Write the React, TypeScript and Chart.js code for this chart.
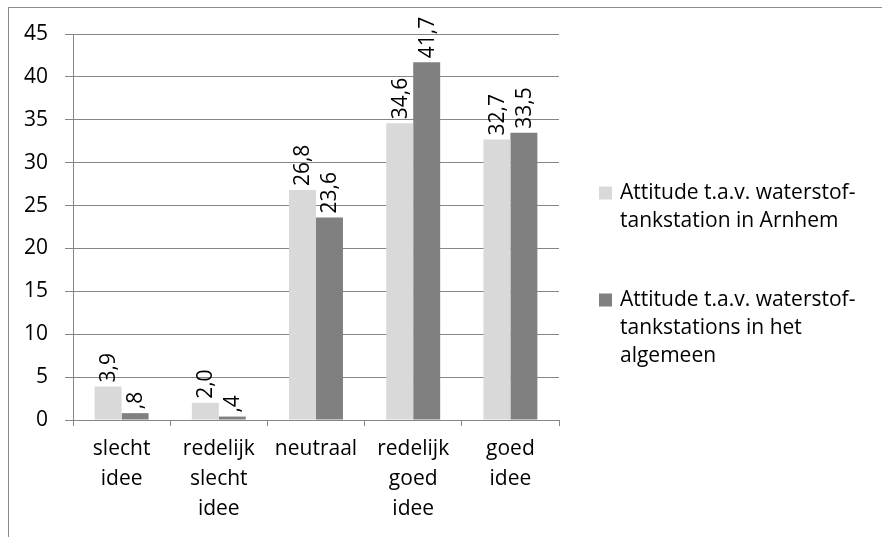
import React, { useEffect, useRef } from "react";
import { Chart, registerables } from "chart.js";

Chart.register(...registerables);

const categories: string[][] = [
  ["slecht", "idee"],
  ["redelijk", "slecht", "idee"],
  ["neutraal"],
  ["redelijk", "goed", "idee"],
  ["goed", "idee"],
];
const arnhemValues: number[] = [3.9, 2.0, 26.8, 34.6, 32.7];
const algemeenValues: number[] = [0.8, 0.4, 23.6, 41.7, 33.5];
const seriesNames: string[][] = [
  ["Attitude t.a.v. waterstof-", "tankstation in Arnhem"],
  ["Attitude t.a.v. waterstof-", "tankstations in het", "algemeen"],
];
const seriesColors: string[] = ["#d9d9d9", "#808080"];
const yTicks = { min: 0, max: 45, step: 5 };

const FONT = "'Open Sans', sans-serif";
const FONT_SIZE = 21;

function fmt(v: number): string {
  let s = v.toFixed(1).replace(".", ",");
  if (s.startsWith("0,")) s = s.slice(1);
  return s;
}

const framePlugin = {
  id: "frame",
  beforeDraw(chart: any) {
    const ctx = chart.ctx;
    ctx.save();
    ctx.strokeStyle = "#8c8c8c";
    ctx.lineWidth = 1;
    ctx.strokeRect(8.5, 7.5, 2000, 2000);
    ctx.restore();
  },
};

const valueLabelPlugin = {
  id: "valueLabels",
  afterDatasetsDraw(chart: any) {
    const ctx = chart.ctx;
    ctx.save();
    ctx.fillStyle = "#000";
    ctx.font = `${FONT_SIZE}px ${FONT}`;
    ctx.textAlign = "left";
    ctx.textBaseline = "middle";
    chart.data.datasets.forEach((ds: any, di: number) => {
      const meta = chart.getDatasetMeta(di);
      meta.data.forEach((bar: any, i: number) => {
        ctx.save();
        ctx.translate(bar.x, bar.y - 4);
        ctx.rotate(-Math.PI / 2);
        ctx.fillText(fmt(ds.data[i]), 0, 1);
        ctx.restore();
      });
    });
    ctx.restore();
  },
};

const legendPlugin = {
  id: "customLegend",
  afterDraw(chart: any) {
    const ctx = chart.ctx;
    const area = chart.chartArea;
    const sqX = area.right + 40;
    const textX = sqX + 21;
    const lineH = 28;
    const starts = [193, 300];
    ctx.save();
    ctx.font = `${FONT_SIZE}px ${FONT}`;
    ctx.textAlign = "left";
    ctx.textBaseline = "middle";
    seriesNames.forEach((lines, si) => {
      const y0 = starts[si];
      ctx.fillStyle = seriesColors[si];
      ctx.fillRect(sqX, y0 - 6.5, 13, 13);
      ctx.fillStyle = "#000";
      lines.forEach((ln, li) => {
        ctx.fillText(ln, textX, y0 + li * lineH);
      });
    });
    ctx.restore();
  },
};

export default function App() {
  const ref = useRef<HTMLCanvasElement | null>(null);
  useEffect(() => {
    if (!ref.current) return;
    const chart = new Chart(ref.current, {
      type: "bar",
      data: {
        labels: categories,
        datasets: [
          {
            label: seriesNames[0].join(" "),
            data: arnhemValues,
            backgroundColor: seriesColors[0],
            categoryPercentage: 0.555,
            barPercentage: 1,
          },
          {
            label: seriesNames[1].join(" "),
            data: algemeenValues,
            backgroundColor: seriesColors[1],
            categoryPercentage: 0.555,
            barPercentage: 1,
          },
        ],
      },
      options: {
        responsive: false,
        animation: false,
        layout: { padding: { left: 0, top: 34, right: 323, bottom: 0 } },
        plugins: {
          legend: { display: false },
          tooltip: { enabled: false },
        },
        scales: {
          x: {
            grid: {
              display: true,
              drawOnChartArea: false,
              drawTicks: true,
              tickLength: 6,
              color: "#868686",
              offset: true,
            },
            border: { display: true, color: "#868686" },
            ticks: {
              color: "#000",
              font: { family: FONT, size: FONT_SIZE, lineHeight: 1.43 },
              padding: 8,
              maxRotation: 0,
              autoSkip: false,
            },
            afterFit(scale: any) {
              scale.height = 117;
            },
          },
          y: {
            min: yTicks.min,
            max: yTicks.max,
            ticks: {
              stepSize: yTicks.step,
              color: "#000",
              font: { family: FONT, size: FONT_SIZE },
              padding: 17,
            },
            grid: { color: "#868686", tickLength: 8 },
            border: { display: true, color: "#868686" },
            afterFit(scale: any) {
              scale.width = 73;
            },
          },
        },
      },
      plugins: [framePlugin, valueLabelPlugin, legendPlugin],
    });
    return () => chart.destroy();
  }, []);
  return (
    <div style={{ position: "absolute", left: 0, top: 0, width: 882, height: 537 }}>
      <canvas ref={ref} width={882} height={537} />
    </div>
  );
}
